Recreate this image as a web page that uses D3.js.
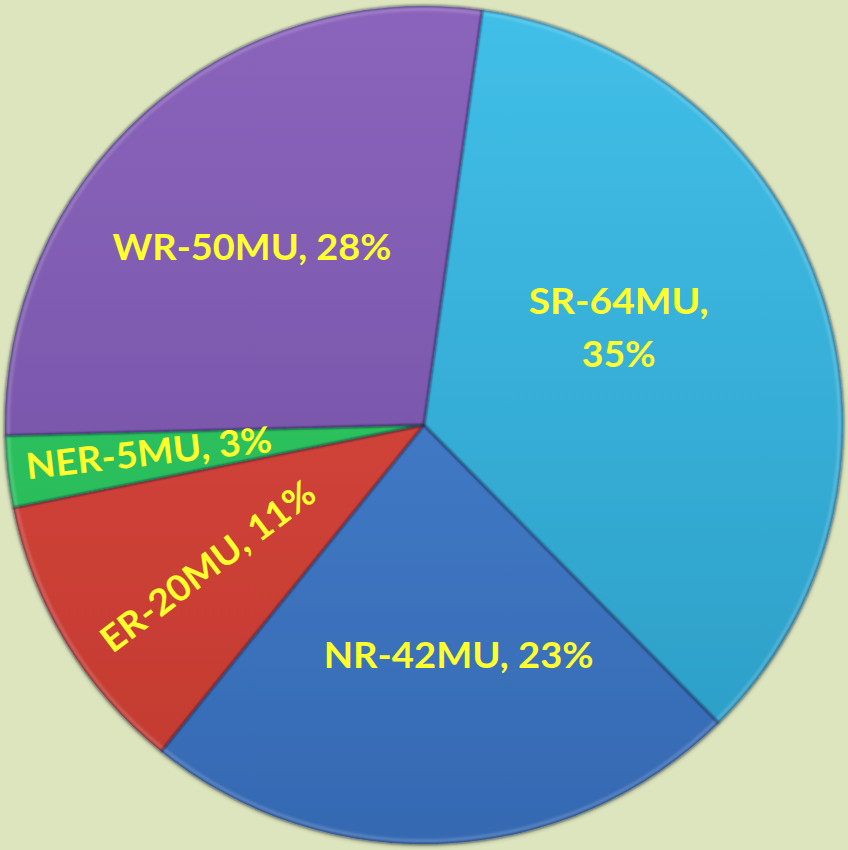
<!DOCTYPE html>
<html>
<head>
<meta charset="utf-8">
<script src="https://cdn.jsdelivr.net/npm/d3@7/dist/d3.min.js"></script>
<style>
html,body{margin:0;padding:0;background:#dce5bd;}
svg{display:block;}
</style>
</head>
<body>
<svg id="chart" width="848" height="850"></svg>
<script>
// Data
const regions = ["SR", "NR", "ER", "NER", "WR"];
const values = [64, 42, 20, 5, 50];
const percents = ["35%", "23%", "11%", "3%", "28%"];
const units = "MU";

// Styling / layout (not data)
const topColors = ["#41bfe8", "#4b88d6", "#de4c43", "#37d36b", "#8b64bc"];
const bottomColors = ["#2a9bc3", "#3569b2", "#c1392f", "#22ae4f", "#6b4d9e"];
const labelRadius = [0.52, 0.557, 0.616, 0.66, 0.59];
const labelAngleOffset = [-8.3, -5.6, -1.9, 0.6, -2.4];
const labelRotate = [0, 0, -37, null, 0];
const labelWidth = [null, 270, 258, 247, 279];

const W = 848, H = 850, cx = 424, cy = 425, R = 419;
const svg = d3.select("#chart");
const defs = svg.append("defs");

const shadow = defs.append("filter").attr("id", "shadow")
  .attr("x", "-10%").attr("y", "-10%").attr("width", "120%").attr("height", "120%");
shadow.append("feGaussianBlur").attr("in", "SourceAlpha").attr("stdDeviation", 2.5).attr("result", "b");
shadow.append("feOffset").attr("in", "b").attr("dx", 0).attr("dy", 1).attr("result", "o");
shadow.append("feComponentTransfer").attr("in", "o").attr("result", "s")
  .append("feFuncA").attr("type", "linear").attr("slope", 0.45);
const m = shadow.append("feMerge");
m.append("feMergeNode").attr("in", "s");
m.append("feMergeNode").attr("in", "SourceGraphic");

const soft = defs.append("filter").attr("id", "soft");
soft.append("feGaussianBlur").attr("stdDeviation", 1.2);

regions.forEach((r, i) => {
  const g = defs.append("linearGradient").attr("id", "grad" + i)
    .attr("gradientUnits", "userSpaceOnUse")
    .attr("x1", 0).attr("y1", -R).attr("x2", 0).attr("y2", R);
  g.append("stop").attr("offset", "0%").attr("stop-color", topColors[i]);
  g.append("stop").attr("offset", "100%").attr("stop-color", bottomColors[i]);
});

const pie = d3.pie().sort(null).value(d => d)
  .startAngle(8 * Math.PI / 180).endAngle(8 * Math.PI / 180 + 2 * Math.PI);
const arcs = pie(values);
const arc = d3.arc().innerRadius(0).outerRadius(R);
const rimArc = d3.arc().innerRadius(R - 5).outerRadius(R - 1);

const g = svg.append("g").attr("transform", `translate(${cx},${cy})`);

g.append("g").attr("filter", "url(#shadow)")
  .selectAll("path").data(arcs).join("path")
  .attr("d", arc)
  .attr("fill", (d, i) => `url(#grad${i})`);

// soft bevel highlight along the outer rim
g.append("g").attr("filter", "url(#soft)")
  .selectAll("path").data(arcs).join("path")
  .attr("d", rimArc)
  .attr("fill", "rgba(255,255,255,0.16)");

// dark soft boundaries between slices
g.append("g").attr("filter", "url(#soft)")
  .selectAll("path").data(arcs).join("path")
  .attr("d", arc)
  .attr("fill", "none")
  .attr("stroke", "rgba(15,20,60,0.45)")
  .attr("stroke-width", 1.8)
  .attr("stroke-linejoin", "round");

const labels = g.append("g")
  .attr("font-family", "Lato, 'Open Sans', sans-serif")
  .attr("font-weight", "bold")
  .attr("font-size", 36)
  .attr("fill", "#ffff2e");

arcs.forEach((d, i) => {
  const mid = (d.startAngle + d.endAngle) / 2 + labelAngleOffset[i] * Math.PI / 180;
  const rr = labelRadius[i] * R;
  const x = Math.sin(mid) * rr, y = -Math.cos(mid) * rr;
  const midDeg = ((d.startAngle + d.endAngle) / 2) * 180 / Math.PI;
  const rot = labelRotate[i] === null ? midDeg - 270 : labelRotate[i];
  const t = labels.append("text")
    .attr("transform", `translate(${x},${y}) rotate(${rot})`)
    .attr("text-anchor", "middle");
  if (i === 0) {
    t.append("tspan").attr("x", 0).attr("y", -26 + 12.5)
      .attr("textLength", 180).attr("lengthAdjust", "spacingAndGlyphs")
      .text(`${regions[i]}-${values[i]}${units},`);
    t.append("tspan").attr("x", 0).attr("y", 27 + 12.5)
      .attr("textLength", 74).attr("lengthAdjust", "spacingAndGlyphs")
      .text(percents[i]);
  } else {
    t.attr("y", 12.5)
      .attr("textLength", labelWidth[i]).attr("lengthAdjust", "spacingAndGlyphs")
      .text(`${regions[i]}-${values[i]}${units}, ${percents[i]}`);
  }
});
</script>
</body>
</html>
